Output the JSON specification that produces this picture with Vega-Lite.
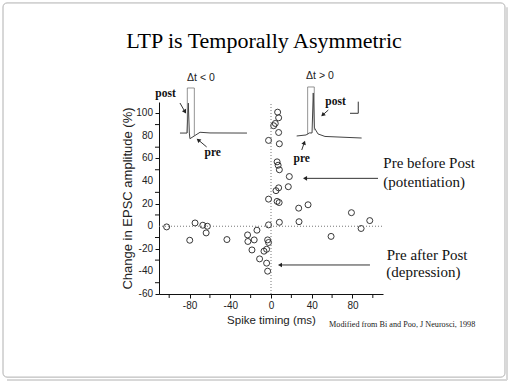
{
  "$schema": "https://vega.github.io/schema/vega-lite/v6.json",
  "width": 224,
  "height": 192,
  "autosize": "none",
  "padding": {"left": 159, "top": 102, "right": 129, "bottom": 90},
  "background": "white",
  "config": {"view": {"stroke": null}},
  "datasets": {
    "pts": [
      {"x": 6.5, "y": 101}, {"x": 7.5, "y": 96}, {"x": 2.6, "y": 89}, {"x": 4.2, "y": 91},
      {"x": 7.5, "y": 83}, {"x": -2.4, "y": 76}, {"x": 8.2, "y": 73}, {"x": 6, "y": 57},
      {"x": 7, "y": 54}, {"x": 8.2, "y": 50}, {"x": 18, "y": 44}, {"x": 17, "y": 35},
      {"x": 4.9, "y": 31.5}, {"x": 7.5, "y": 34}, {"x": -2.4, "y": 24}, {"x": 6, "y": 22},
      {"x": 8, "y": 21}, {"x": 27.2, "y": 16}, {"x": 36.4, "y": 19}, {"x": -2.4, "y": 1.2},
      {"x": 8.2, "y": 3.5}, {"x": 27.5, "y": 4}, {"x": 79, "y": 12}, {"x": 97, "y": 5},
      {"x": 88.5, "y": -2}, {"x": 59, "y": -9},
      {"x": -102.5, "y": -0.6}, {"x": -79.8, "y": -12.4}, {"x": -74.6, "y": 2.9}, {"x": -67, "y": 0.9},
      {"x": -62.5, "y": 0}, {"x": -63.7, "y": -5.9}, {"x": -43.3, "y": -11.8}, {"x": -23, "y": -7.7},
      {"x": -22.7, "y": -13.5}, {"x": -16.5, "y": -12.1}, {"x": -13.8, "y": -3.5}, {"x": -18.7, "y": -21},
      {"x": -11.2, "y": -28.9}, {"x": -6.9, "y": -22.1}, {"x": -4.3, "y": -20.4}, {"x": -3.3, "y": -12.1},
      {"x": -2.4, "y": -14.4}, {"x": -4.3, "y": -32.7}, {"x": -3.3, "y": -39.8}
    ],
    "xminor": [{"v": -100}, {"v": -60}, {"v": -20}, {"v": 20}, {"v": 60}, {"v": 100}],
    "yminor": [{"v": -50}, {"v": -30}, {"v": -10}, {"v": 10}, {"v": 30}, {"v": 50}, {"v": 70}, {"v": 90}],
    "ymajor": [{"v": -60}, {"v": -40}, {"v": -20}, {"v": 0}, {"v": 20}, {"v": 40}, {"v": 60}, {"v": 80}, {"v": 100}],
    "wave": [
      {"trace": "L", "o": 1, "x": -89.4, "y": 82.5},
      {"trace": "L", "o": 2, "x": -82.5, "y": 82.5},
      {"trace": "L", "o": 3, "x": -81.2, "y": 109},
      {"trace": "L", "o": 4, "x": -80.2, "y": 82.5},
      {"trace": "L", "o": 5, "x": -79.6, "y": 77.5},
      {"trace": "L", "o": 6, "x": -75.6, "y": 79.8},
      {"trace": "L", "o": 7, "x": -69.7, "y": 83.2},
      {"trace": "L", "o": 8, "x": -59.9, "y": 82.6},
      {"trace": "L", "o": 9, "x": -23.6, "y": 82.5},
      {"trace": "R", "o": 1, "x": 25.2, "y": 79.9},
      {"trace": "R", "o": 2, "x": 34.4, "y": 80.8},
      {"trace": "R", "o": 3, "x": 37.6, "y": 82.6},
      {"trace": "R", "o": 4, "x": 40.3, "y": 82.6},
      {"trace": "R", "o": 5, "x": 41.5, "y": 118},
      {"trace": "R", "o": 6, "x": 42.7, "y": 87},
      {"trace": "R", "o": 7, "x": 46.2, "y": 81.7},
      {"trace": "R", "o": 8, "x": 53, "y": 79.5},
      {"trace": "R", "o": 9, "x": 89, "y": 78.1}
    ],
    "markers": [
      {"x": -82.2, "y": 122.4, "x2": -82.2, "y2": 82.5},
      {"x": -75.3, "y": 122.4, "x2": -75.3, "y2": 80},
      {"x": -82.2, "y": 122.4, "x2": -75.3, "y2": 122.4},
      {"x": 36, "y": 123.3, "x2": 36, "y2": 81},
      {"x": 42.5, "y": 123.3, "x2": 42.5, "y2": 85},
      {"x": 36, "y": 123.3, "x2": 42.5, "y2": 123.3}
    ],
    "seg": [
      {"x": -89.4, "y": 109.1, "x2": -84.5, "y2": 101.4},
      {"x": -63.2, "y": 70.2, "x2": -71.4, "y2": 76.4},
      {"x": 56.3, "y": 102.9, "x2": 50.8, "y2": 98.5},
      {"x": 30.2, "y": 67.5, "x2": 32.7, "y2": 74},
      {"x": 105.1, "y": 42.4, "x2": 33.4, "y2": 42.4},
      {"x": 97.2, "y": -34.3, "x2": 8.8, "y2": -34.3},
      {"x": 85.7, "y": 110.3, "x2": 85.7, "y2": 100},
      {"x": 77.6, "y": 100, "x2": 85.7, "y2": 100}
    ],
    "shadow": [
      {"x": 231.8, "y": 193.9, "x2": 231.8, "y2": -136.2},
      {"x": -259.3, "y": -136.2, "x2": 231.8, "y2": -136.2}
    ],
    "heads": [
      {"x": -84.5, "y": 101.4, "a": 150},
      {"x": -71.4, "y": 76.4, "a": 310},
      {"x": 50.8, "y": 98.5, "a": 228},
      {"x": 32.7, "y": 74, "a": 20},
      {"x": 33.4, "y": 42.4, "a": 270},
      {"x": 8.8, "y": -34.3, "a": 270}
    ],
    "labelsBold": [
      {"x": -103.6, "y": 116.8, "t": "post"},
      {"x": -57.2, "y": 64.5, "t": "pre"},
      {"x": 63.4, "y": 110.3, "t": "post"},
      {"x": 30.2, "y": 59.5, "t": "pre"}
    ],
    "labelsDt": [
      {"x": -68.8, "y": 131.3, "t": "Δt < 0"},
      {"x": 48.1, "y": 133, "t": "Δt > 0"}
    ],
    "notes": [
      {"x": 110.3, "y": 51.6, "t": "Pre before Post"},
      {"x": 110.3, "y": 35.0, "t": "(potentiation)"},
      {"x": 113.6, "y": -29.9, "t": "Pre after Post"},
      {"x": 113.3, "y": -44.7, "t": "(depression)"}
    ]
  },
  "layer": [
    {
      "data": {"name": "pts"},
      "mark": {"type": "point", "shape": "circle", "filled": false, "stroke": "#222", "strokeWidth": 0.9, "size": 36, "opacity": 1},
      "encoding": {
        "x": {
          "field": "x", "type": "quantitative",
          "scale": {"domain": [-110, 110], "nice": false, "zero": false},
          "axis": {
            "title": "Spike timing (ms)",
            "values": [-80, -40, 0, 40, 80],
            "labelExpr": "'' + datum.value",
            "grid": false, "domainColor": "#111", "tickColor": "#111", "tickSize": 4,
            "labelFont": "Liberation Sans", "labelFontSize": 10, "labelColor": "#222", "labelPadding": 2,
            "labelOverlap": false, "labelFlush": false,
            "titleFont": "Liberation Sans", "titleFontSize": 11.5, "titleFontWeight": "normal", "titleColor": "#222", "titlePadding": 4
          }
        },
        "y": {
          "field": "y", "type": "quantitative",
          "scale": {"domain": [-60, 110], "nice": false, "zero": false},
          "axis": {
            "title": "Change in EPSC amplitude (%)",
            "values": [-60, -40, -20, 0, 20, 40, 60, 80, 100],
            "labels": false,
            "grid": false, "domainColor": "#111", "tickColor": "#111", "tickSize": 4,
            "titleFont": "Liberation Sans", "titleFontSize": 13, "titleFontWeight": "normal", "titleColor": "#222", "titlePadding": 20
          }
        }
      }
    },
    {
      "data": {"name": "ymajor"},
      "mark": {"type": "text", "font": "Liberation Sans", "fontSize": 10, "color": "#222", "align": "right", "baseline": "middle", "dx": -6},
      "encoding": {
        "y": {"field": "v", "type": "quantitative"},
        "x": {"datum": -110, "type": "quantitative"},
        "text": {"field": "v", "type": "nominal"}
      }
    },
    {
      "data": {"name": "xminor"},
      "mark": {"type": "rule", "stroke": "#111", "strokeWidth": 1},
      "encoding": {
        "x": {"field": "v", "type": "quantitative"},
        "y": {"datum": -60, "type": "quantitative"},
        "y2": {"datum": -63.54}
      }
    },
    {
      "data": {"name": "yminor"},
      "mark": {"type": "rule", "stroke": "#111", "strokeWidth": 1},
      "encoding": {
        "y": {"field": "v", "type": "quantitative"},
        "x": {"datum": -110, "type": "quantitative"},
        "x2": {"datum": -113.93}
      }
    },
    {
      "data": {"name": "shadow"},
      "mark": {"type": "rule", "stroke": "#d8d8d8", "strokeWidth": 2},
      "encoding": {
        "x": {"field": "x", "type": "quantitative"},
        "y": {"field": "y", "type": "quantitative"},
        "x2": {"field": "x2"},
        "y2": {"field": "y2"}
      }
    },
    {
      "data": {"values": [{}]},
      "mark": {"type": "rect", "fill": null, "stroke": "#b0b0b0", "strokeWidth": 1, "cornerRadius": 4},
      "encoding": {
        "x": {"datum": -263.2, "type": "quantitative"},
        "x2": {"datum": 229.8},
        "y": {"datum": 197.7, "type": "quantitative"},
        "y2": {"datum": -133.6}
      }
    },
    {
      "data": {"values": [{}]},
      "mark": {"type": "rule", "stroke": "#777", "strokeDash": [1, 2], "strokeWidth": 1},
      "encoding": {
        "x": {"datum": 0, "type": "quantitative"},
        "y": {"datum": -60, "type": "quantitative"},
        "y2": {"datum": 110}
      }
    },
    {
      "data": {"values": [{}]},
      "mark": {"type": "rule", "stroke": "#777", "strokeDash": [1, 2], "strokeWidth": 1},
      "encoding": {
        "y": {"datum": 0, "type": "quantitative"},
        "x": {"datum": -110, "type": "quantitative"},
        "x2": {"datum": 110}
      }
    },
    {
      "data": {"name": "wave"},
      "mark": {"type": "line", "stroke": "#444", "strokeWidth": 1, "interpolate": "linear"},
      "encoding": {
        "x": {"field": "x", "type": "quantitative"},
        "y": {"field": "y", "type": "quantitative"},
        "detail": {"field": "trace"},
        "order": {"field": "o", "type": "quantitative"}
      }
    },
    {
      "data": {"name": "markers"},
      "mark": {"type": "rule", "stroke": "#666", "strokeWidth": 0.7},
      "encoding": {
        "x": {"field": "x", "type": "quantitative"},
        "y": {"field": "y", "type": "quantitative"},
        "x2": {"field": "x2"},
        "y2": {"field": "y2"}
      }
    },
    {
      "data": {"name": "seg"},
      "mark": {"type": "rule", "stroke": "#333", "strokeWidth": 1},
      "encoding": {
        "x": {"field": "x", "type": "quantitative"},
        "y": {"field": "y", "type": "quantitative"},
        "x2": {"field": "x2"},
        "y2": {"field": "y2"}
      }
    },
    {
      "data": {"name": "heads"},
      "mark": {"type": "point", "shape": "triangle-up", "filled": true, "fill": "#222", "stroke": null, "size": 22, "opacity": 1},
      "encoding": {
        "x": {"field": "x", "type": "quantitative"},
        "y": {"field": "y", "type": "quantitative"},
        "angle": {"field": "a", "type": "quantitative", "scale": null}
      }
    },
    {
      "data": {"name": "labelsBold"},
      "mark": {"type": "text", "font": "Liberation Serif", "fontSize": 11.5, "fontWeight": "bold", "color": "#111", "align": "center", "baseline": "middle"},
      "encoding": {
        "x": {"field": "x", "type": "quantitative"},
        "y": {"field": "y", "type": "quantitative"},
        "text": {"field": "t"}
      }
    },
    {
      "data": {"name": "labelsDt"},
      "mark": {"type": "text", "font": "Liberation Sans", "fontSize": 10.5, "color": "#222", "align": "center", "baseline": "middle"},
      "encoding": {
        "x": {"field": "x", "type": "quantitative"},
        "y": {"field": "y", "type": "quantitative"},
        "text": {"field": "t"}
      }
    },
    {
      "data": {"name": "notes"},
      "mark": {"type": "text", "font": "Liberation Serif", "fontSize": 15, "color": "#111", "align": "left", "baseline": "alphabetic"},
      "encoding": {
        "x": {"field": "x", "type": "quantitative"},
        "y": {"field": "y", "type": "quantitative"},
        "text": {"field": "t"}
      }
    },
    {
      "data": {"values": [{}]},
      "mark": {"type": "text", "font": "Liberation Serif", "fontSize": 22, "color": "#000", "align": "center", "baseline": "alphabetic"},
      "encoding": {
        "x": {"datum": -6.9, "type": "quantitative"},
        "y": {"datum": 157.8, "type": "quantitative"},
        "text": {"value": "LTP is Temporally Asymmetric"}
      }
    },
    {
      "data": {"values": [{}]},
      "mark": {"type": "text", "font": "Liberation Serif", "fontSize": 8.2, "color": "#222", "align": "left", "baseline": "alphabetic"},
      "encoding": {
        "x": {"datum": 57, "type": "quantitative"},
        "y": {"datum": -89.2, "type": "quantitative"},
        "text": {"value": "Modified from Bi and Poo, J Neurosci, 1998"}
      }
    }
  ]
}
